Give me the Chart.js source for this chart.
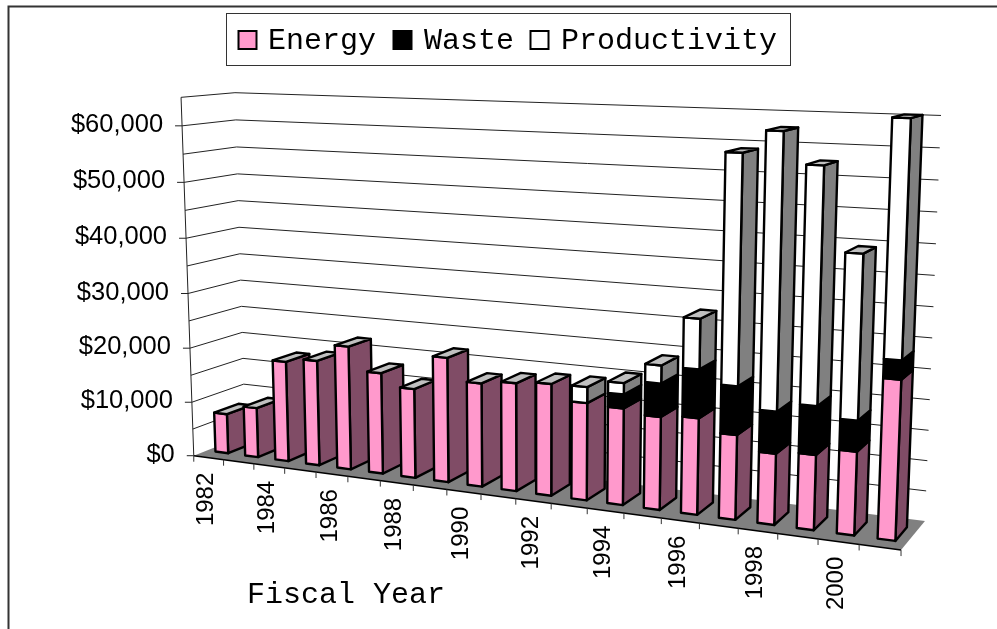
<!DOCTYPE html>
<html><head><meta charset="utf-8">
<style>html,body{margin:0;padding:0;background:#fff}canvas{display:block}</style>
<script src="https://cdn.jsdelivr.net/npm/chart.js@4"></script>
</head><body><canvas id="c" width="997" height="629"></canvas>
<script>
const years = ['1982','1983','1984','1985','1986','1987','1988','1989','1990','1991','1992','1993','1994','1995','1996','1997','1998','1999','2000','2001'];
const energy = [7350,9150,18300,19050,22200,18050,15850,21950,18100,18750,19250,16650,16400,15650,16100,14050,11700,12250,13500,25550];
const waste = [0,0,0,0,0,0,0,0,0,0,0,0,2350,5550,8050,7950,6850,7850,4950,3000];
const productivity = [0,0,0,0,0,0,0,0,0,0,0,2700,1900,3000,8250,37100,44150,37600,26100,36750];
const seriesNames = ['Energy','Waste','Productivity'];
const frontColors = ['#FF99CC','#000000','#FFFFFF'];
const sideColors = ['#804C66','#000000','#808080'];
const topColor = '#C0C0C0';
const xTitle = 'Fiscal Year';

// 3D box corners on screen: [u, v, z, screenX, screenY]
const boxCorners = [
 [0,0,0,193,454],[1,0,0,901,550],[1,0,1,925,521],[0,0,1,246,437],
 [0,1,0,181,97],[1,1,0,918,125],[1,1,1,940,113],[0,1,1,235,93]];
const BAR_Z0 = 0.25, BAR_Z1 = 0.72, BAR_LINE = 2.4;

function solve(A,b){const n=b.length;for(let i=0;i<n;i++){let p=i;for(let r=i+1;r<n;r++)if(Math.abs(A[r][i])>Math.abs(A[p][i]))p=r;
 [A[i],A[p]]=[A[p],A[i]];[b[i],b[p]]=[b[p],b[i]];
 for(let r=i+1;r<n;r++){const f=A[r][i]/A[i][i];for(let c=i;c<n;c++)A[r][c]-=f*A[i][c];b[r]-=f*b[i];}}
 const x=new Array(n);for(let i=n-1;i>=0;i--){let s=b[i];for(let c=i+1;c<n;c++)s-=A[i][c]*x[c];x[i]=s/A[i][i];}return x;}
function fitCamera(pts){const R=[],B=[];for(const [u,v,z,x,y] of pts){
 R.push([u,v,z,1,0,0,0,0,-x*u,-x*v,-x*z]);B.push(x);R.push([0,0,0,0,u,v,z,1,-y*u,-y*v,-y*z]);B.push(y);}
 const n=11,A=[...Array(n)].map(()=>Array(n).fill(0)),b=Array(n).fill(0);
 R.forEach((r,k)=>{for(let i=0;i<n;i++){b[i]+=r[i]*B[k];for(let j=0;j<n;j++)A[i][j]+=r[i]*r[j];}});return solve(A,b);}
const cam = fitCamera(boxCorners);
function P(u,v,z){const w=cam[8]*u+cam[9]*v+cam[10]*z+1;
 return [(cam[0]*u+cam[1]*v+cam[2]*z+cam[3])/w,(cam[4]*u+cam[5]*v+cam[6]*z+cam[7])/w];}
function poly(ctx,pts,fill,stroke,lw){ctx.beginPath();pts.forEach((p,i)=>i?ctx.lineTo(p[0],p[1]):ctx.moveTo(p[0],p[1]));ctx.closePath();
 if(fill){ctx.fillStyle=fill;ctx.fill();}if(stroke){ctx.strokeStyle=stroke;ctx.lineWidth=lw;ctx.lineJoin='round';ctx.stroke();}}
function seg(ctx,a,b,color,lw){ctx.beginPath();ctx.moveTo(a[0],a[1]);ctx.lineTo(b[0],b[1]);ctx.strokeStyle=color;ctx.lineWidth=lw;ctx.stroke();}

const box3d = {
 id:'box3d',
 beforeDraw(chart){
  const ctx=chart.ctx;ctx.save();ctx.fillStyle='#fff';ctx.fillRect(0,0,chart.width,chart.height);
  ctx.strokeStyle='#333';ctx.lineWidth=2;ctx.beginPath();ctx.moveTo(8.5,chart.height);ctx.lineTo(8.5,6.5);ctx.lineTo(chart.width,6.5);ctx.stroke();
  // legend box
  ctx.lineWidth=1;ctx.strokeStyle='#333';ctx.strokeRect(226.5,13.5,564,52);
  const swX=[238.5,393.5,530.5],txX=[268,424,561];
  ctx.font='30px "Liberation Mono"';ctx.textBaseline='middle';ctx.textAlign='left';
  seriesNames.forEach((s,i)=>{ctx.fillStyle=frontColors[i];ctx.strokeStyle='#000';ctx.lineWidth=2;
   ctx.fillRect(swX[i],31,18,18);ctx.strokeRect(swX[i],31,18,18);ctx.fillStyle='#000';ctx.fillText(s,txX[i],41);});
  ctx.restore();
 },
 beforeDatasetsDraw(chart){
  const ctx=chart.ctx,a=chart.chartArea,ys=chart.scales.y,xs=chart.scales.x;
  const U=x=>(x-a.left)/(a.right-a.left),V=y=>(a.bottom-y)/(a.bottom-a.top);
  ctx.save();
  // y gridlines on side and back walls
  ys.ticks.forEach(t=>{const v=V(ys.getPixelForValue(t.value));
   if(v===0)return;
   const p0=P(0,v,0),p1=P(0,v,1),p2=P(1,v,1);
   ctx.beginPath();ctx.moveTo(p0[0],p0[1]);ctx.lineTo(p1[0],p1[1]);ctx.lineTo(p2[0],p2[1]);ctx.strokeStyle='#222';ctx.lineWidth=1;ctx.lineJoin='miter';ctx.stroke();});
  seg(ctx,P(0,0,0),P(0,1,0),'#222',1);
  // y ticks & labels
  ctx.font='25.5px "Liberation Sans"';ctx.textAlign='right';ctx.textBaseline='middle';ctx.fillStyle='#000';
  ys.ticks.forEach(t=>{if(!t.label)return;const p=P(0,V(ys.getPixelForValue(t.value)),0);
   seg(ctx,[p[0]-7,p[1]],p,'#222',1);ctx.fillText(t.label,p[0]-19,p[1]-1);});
  // floor
  poly(ctx,[P(0,0,0),P(1,0,0),P(1,0,1),P(0,0,1)],'#808080');
  seg(ctx,P(0,0,0),P(1,0,0),'#000',1.5);
  // x ticks + labels
  const n=xs.ticks.length;
  for(let i=0;i<=n;i++){const p=P(i/n,0,0);seg(ctx,p,[p[0],p[1]+6],'#333',1);}
  ctx.fillStyle='#000';ctx.font='24px "Liberation Sans"';
  xs.ticks.forEach((t,i)=>{if(!t.label)return;const c=P(U(xs.getPixelForTick(i)),0,0);
   ctx.save();ctx.translate(c[0]-2,c[1]+15);ctx.rotate(-Math.PI/2);ctx.textAlign='right';ctx.textBaseline='middle';ctx.fillText(t.label,0,0);ctx.restore();});
  // axis title
  ctx.font='30px "Liberation Mono"';ctx.textAlign='center';ctx.textBaseline='alphabetic';ctx.fillText(xTitle,346,603);
  // bars, left to right
  const metas=chart.data.datasets.map((d,i)=>chart.getDatasetMeta(i));
  years.forEach((yr,i)=>{
   let last=-1;metas.forEach((m,k)=>{if(chart.data.datasets[k].data[i]>0)last=k;});
   metas.forEach((m,k)=>{
    if(chart.data.datasets[k].data[i]<=0)return;
    const e=m.data[i],u0=U(e.x-e.width/2),u1=U(e.x+e.width/2),v0=V(e.base),v1=V(e.y);
    poly(ctx,[P(u1,v0,BAR_Z0),P(u1,v0,BAR_Z1),P(u1,v1,BAR_Z1),P(u1,v1,BAR_Z0)],sideColors[k],'#000',BAR_LINE);
    poly(ctx,[P(u0,v0,BAR_Z0),P(u1,v0,BAR_Z0),P(u1,v1,BAR_Z0),P(u0,v1,BAR_Z0)],frontColors[k],'#000',BAR_LINE);
    if(k===last)poly(ctx,[P(u0,v1,BAR_Z0),P(u1,v1,BAR_Z0),P(u1,v1,BAR_Z1),P(u0,v1,BAR_Z1)],topColor,'#000',BAR_LINE);
   });
  });
  ctx.restore();
  return false;
 }
};

new Chart(document.getElementById('c'),{
 type:'bar',
 data:{labels:years,datasets:[
  {label:seriesNames[0],data:energy,backgroundColor:frontColors[0]},
  {label:seriesNames[1],data:waste,backgroundColor:frontColors[1]},
  {label:seriesNames[2],data:productivity,backgroundColor:frontColors[2]}]},
 options:{
  responsive:false,animation:false,
  layout:{padding:{left:181,right:96,top:97,bottom:175}},
  plugins:{legend:{display:false},tooltip:{enabled:false},title:{display:false}},
  datasets:{bar:{categoryPercentage:1,barPercentage:0.43}},
  scales:{
   x:{stacked:true,grid:{display:false},border:{display:false},
      ticks:{display:false,autoSkip:false,callback(v,i){return i%2===0?this.getLabelForValue(v):'';}}},
   y:{stacked:true,min:0,max:65000,grid:{display:false},border:{display:false},
      ticks:{display:false,stepSize:5000,callback(v){return v%10000===0?'$'+v.toLocaleString('en-US'):'';}}}
  }
 },
 plugins:[box3d]
});
</script></body></html>
